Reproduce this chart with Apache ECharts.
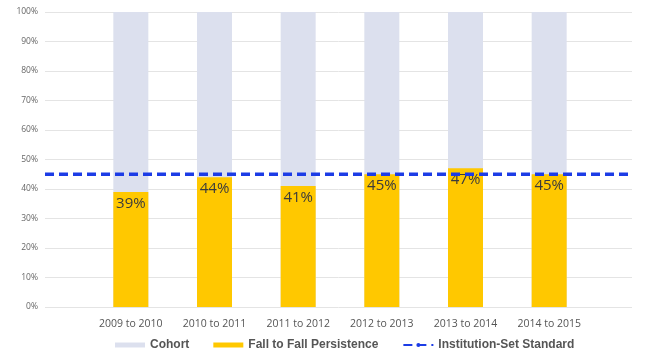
<!DOCTYPE html>
<html><head><meta charset="utf-8">
<script src="https://cdn.jsdelivr.net/npm/echarts@6/dist/echarts.min.js"></script>
<style>html,body{margin:0;padding:0;background:#fff}#c{width:648px;height:358px}</style>
</head><body><div id="c"></div>
<script>
const categories = ['2009 to 2010','2010 to 2011','2011 to 2012','2012 to 2013','2013 to 2014','2014 to 2015'];
const cohort = [100, 100, 100, 100, 100, 100];
const persistence = [39, 44, 41, 45, 47, 45];
const standard = 45;
const seriesNames = ['Cohort', 'Fall to Fall Persistence', 'Institution-Set Standard'];

const chart = echarts.init(document.getElementById('c'), null, {renderer: 'canvas'});
chart.setOption({
  animation: false,
  backgroundColor: '#fff',
  grid: [
    {left: 45, right: 16, top: 12, bottom: 51},
    {left: 89, right: 57, top: 12, bottom: 51}
  ],
  legend: {
    left: 110, bottom: 2,
    itemWidth: 30, itemHeight: 5, itemGap: 24,
    textStyle: {fontFamily: 'Liberation Sans', fontWeight: 'bold', fontSize: 12, color: '#555'},
    data: [
      {name: seriesNames[0], icon: 'rect'},
      {name: seriesNames[1], icon: 'rect'},
      {name: seriesNames[2]}
    ]
  },
  xAxis: [
    {gridIndex: 0, type: 'value', min: 0, max: 1, show: false},
    {gridIndex: 1, type: 'category', data: categories,
     axisLine: {show: false}, axisTick: {show: false},
     axisLabel: {margin: 12, fontFamily: 'Open Sans', fontSize: 10.5, color: '#555'}}
  ],
  yAxis: [
    {gridIndex: 0, type: 'value', min: 0, max: 100, interval: 10,
     axisLine: {show: false}, axisTick: {show: false},
     axisLabel: {formatter: '{value}%', fontFamily: 'Open Sans', fontSize: 8.5, color: '#666', margin: 7},
     splitLine: {lineStyle: {color: '#e4e4e4', width: 1}}},
    {gridIndex: 1, type: 'value', min: 0, max: 100, show: false}
  ],
  series: [
    {name: seriesNames[0], type: 'bar', xAxisIndex: 1, yAxisIndex: 1, data: cohort,
     barWidth: 35, itemStyle: {color: '#dce0ee'}, z: 2},
    {name: seriesNames[1], type: 'bar', xAxisIndex: 1, yAxisIndex: 1, data: persistence,
     barWidth: 35, barGap: '-100%', itemStyle: {color: '#ffc800'}, z: 3,
     label: {show: true, position: 'insideTop', distance: 4, formatter: '{c}%',
             fontFamily: 'Open Sans', fontSize: 15, color: '#3b3b3b'}},
    {name: seriesNames[2], type: 'line', xAxisIndex: 0, yAxisIndex: 0,
     data: [[0, standard], [1, standard]], showSymbol: false, symbol: 'none', z: 10,
     itemStyle: {color: '#1c3ce6'},
     lineStyle: {color: '#1c3ce6', width: 3.5, type: [9, 5]}}
  ]
});
</script></body></html>
